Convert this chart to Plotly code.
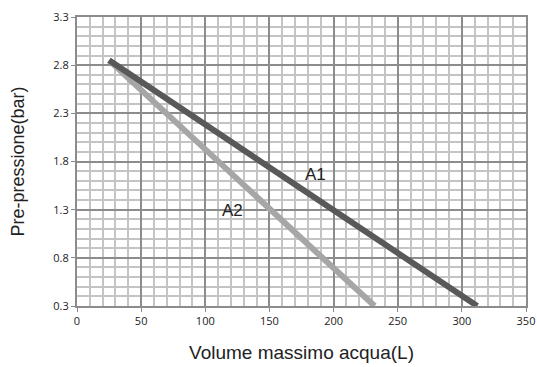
import plotly.graph_objects as go

# data
a1_x = [25, 312]
a1_y = [2.85, 0.3]
a2_x = [25, 232]
a2_y = [2.85, 0.3]
x_ticks = [0, 50, 100, 150, 200, 250, 300, 350]
y_ticks = [0.3, 0.8, 1.3, 1.8, 2.3, 2.8, 3.3]

fig = go.Figure()
fig.add_trace(go.Scatter(x=a2_x, y=a2_y, mode='lines', line=dict(color='#a6a6a6', width=6),
                         showlegend=False))
fig.add_trace(go.Scatter(x=a1_x, y=a1_y, mode='lines', line=dict(color='#595959', width=6),
                         showlegend=False))

fig.add_annotation(x=186, y=1.67, text='A1', showarrow=False,
                   font=dict(family='Liberation Sans, Arial', size=17, color='#222'))
fig.add_annotation(x=121, y=1.29, text='A2', showarrow=False,
                   font=dict(family='Liberation Sans, Arial', size=17, color='#222'))

fig.update_xaxes(range=[0, 350], tickvals=x_ticks, ticks='outside', ticklen=4, tickcolor='#888',
                 showgrid=True, gridcolor='#8c8c8c', gridwidth=2, automargin=False,
                 minor=dict(dtick=10, tick0=0, showgrid=True, gridcolor='#c4c4c4', gridwidth=2),
                 showline=True, linecolor='#8c8c8c', linewidth=2, mirror=True, zeroline=False,
                 tickfont=dict(family='Open Sans', size=11, color='#222'),
                 title=dict(text='Volume massimo acqua(L)', standoff=18,
                            font=dict(family='Liberation Sans, Arial', size=19, color='#222')))
fig.update_yaxes(range=[0.3, 3.3], tickvals=y_ticks, ticks='outside', ticklen=4, tickcolor='#888',
                 showgrid=True, gridcolor='#8c8c8c', gridwidth=2, automargin=False,
                 minor=dict(dtick=0.1, tick0=0.3, showgrid=True, gridcolor='#c4c4c4', gridwidth=2),
                 showline=True, linecolor='#8c8c8c', linewidth=2, mirror=True, zeroline=False,
                 tickfont=dict(family='Open Sans', size=11, color='#222'),
                 title=dict(text='Pre-pressione(bar)', standoff=24,
                            font=dict(family='Liberation Sans, Arial', size=18, color='#222')))

fig.update_layout(width=537, height=367, margin=dict(l=77, r=11, t=17, b=61),
                  plot_bgcolor='white', paper_bgcolor='white')
fig.write_html("out.html", config={'displayModeBar': False},
               post_script="document.body.style.margin='0';document.body.style.overflow='hidden';")
